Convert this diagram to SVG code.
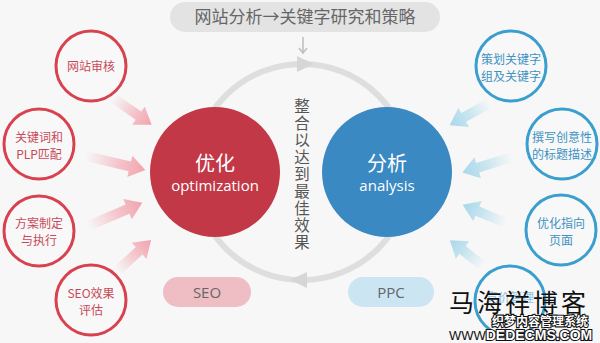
<svg xmlns="http://www.w3.org/2000/svg" width="600" height="343" viewBox="0 0 600 343">
<defs>
<style>
.cn{font-family:"Noto Sans CJK SC","Open Sans",sans-serif}
.lab{font-size:12px;text-anchor:middle}
.red{fill:#c84a58}
.blue{fill:#3d92c4}
.rc{fill:#f8f8f8;stroke:#d8424f;stroke-width:3}
.bc{fill:#f8f8f8;stroke:#3a9fcf;stroke-width:3}
.big{font-family:"Open Sans","Noto Sans CJK SC",sans-serif;fill:#fff;text-anchor:middle}
</style>
<linearGradient id="gr" x1="0" y1="0" x2="1" y2="0">
<stop offset="0" stop-color="#f2a3ad" stop-opacity="0"/>
<stop offset="0.55" stop-color="#f2a3ad" stop-opacity="0.6"/>
<stop offset="1" stop-color="#f2a3ad" stop-opacity="1"/>
</linearGradient>
<linearGradient id="gb" x1="0" y1="0" x2="1" y2="0">
<stop offset="0" stop-color="#a7d8ea" stop-opacity="0"/>
<stop offset="0.55" stop-color="#a7d8ea" stop-opacity="0.6"/>
<stop offset="1" stop-color="#a7d8ea" stop-opacity="1"/>
</linearGradient>
</defs>
<rect width="600" height="343" fill="#f7f7f7"/>

<g id="title">
<rect x="170" y="2" width="270" height="30" rx="15" fill="#e3e3e3"/>
<text x="305" y="23" class="cn" font-size="17" fill="#666" text-anchor="middle">网站分析→关键字研究和策略</text>
</g>

<g id="connectors">
<line x1="303" y1="37" x2="303" y2="53" stroke="#bdbdbd" stroke-width="1.5"/>
<polyline points="299,48 303,53 307,48" fill="none" stroke="#bdbdbd" stroke-width="1.5"/>
<circle cx="302" cy="172" r="108" fill="none" stroke="#dedede" stroke-width="6"/>
<polygon points="297,56 314,64 297,72" fill="#d6d6d6"/>
<polygon points="307,272 290,280 307,288" fill="#d6d6d6"/>
<g>
<polygon transform="translate(113,98) rotate(34.7)" points="0,-5 31,-5 31,-11 47,0 31,11 31,5 0,5" fill="url(#gr)"/>
<polygon transform="translate(86,156) rotate(13.3)" points="0,-5 45,-5 45,-11 61,0 45,11 45,5 0,5" fill="url(#gr)"/>
<polygon transform="translate(88,226) rotate(-23.1)" points="0,-5 43,-5 43,-11 59,0 43,11 43,5 0,5" fill="url(#gr)"/>
<polygon transform="translate(117,271) rotate(-42.3)" points="0,-5 30,-5 30,-11 46,0 30,11 30,5 0,5" fill="url(#gr)"/>
<polygon transform="translate(490,103) rotate(151.2)" points="0,-5 30,-5 30,-11 46,0 30,11 30,5 0,5" fill="url(#gb)"/>
<polygon transform="translate(512,157) rotate(162.6)" points="0,-5 36,-5 36,-11 52,0 36,11 36,5 0,5" fill="url(#gb)"/>
<polygon transform="translate(506,223) rotate(-157.3)" points="0,-5 31,-5 31,-11 47,0 31,11 31,5 0,5" fill="url(#gb)"/>
<polygon transform="translate(483,266) rotate(-142)" points="0,-5 26,-5 26,-11 42,0 26,11 26,5 0,5" fill="url(#gb)"/>
</g>
</g>

<g id="optimization">
<circle cx="215" cy="172" r="65" fill="#c23847"/>
<text x="215" y="171" class="big cn" font-size="20">优化</text>
<text x="215" y="191" class="big" font-size="15">optimization</text>
</g>
<g id="analysis">
<circle cx="387" cy="172" r="65" fill="#3a89c3"/>
<text x="387" y="171" class="big cn" font-size="20">分析</text>
<text x="387" y="191" class="big" font-size="15">analysis</text>
</g>

<g id="center-text">
<text x="302" y="98" class="cn" font-size="15.5" fill="#555" writing-mode="vertical-rl" letter-spacing="1.5">整合以达到最佳效果</text>
</g>

<g id="n1"><circle class="rc" cx="91" cy="66" r="35"/><text class="cn lab red" x="91" y="71">网站审核</text></g>
<g id="n2"><circle class="rc" cx="39" cy="144" r="35"/><text class="cn lab red" x="39" y="142">关键词和</text><text class="cn lab red" x="39" y="159">PLP匹配</text></g>
<g id="n3"><circle class="rc" cx="39" cy="231" r="35"/><text class="cn lab red" x="39" y="228">方案制定</text><text class="cn lab red" x="39" y="245">与执行</text></g>
<g id="n4"><circle class="rc" cx="91" cy="300" r="35"/><text class="cn lab red" x="91" y="298">SEO效果</text><text class="cn lab red" x="91" y="315">评估</text></g>

<g id="n5"><circle class="bc" cx="511" cy="66" r="35"/><text class="cn lab blue" x="511" y="64">策划关键字</text><text class="cn lab blue" x="511" y="81">组及关键字</text></g>
<g id="n6"><circle class="bc" cx="562" cy="144" r="35"/><text class="cn lab blue" x="562" y="142">撰写创意性</text><text class="cn lab blue" x="562" y="159">的标题描述</text></g>
<g id="n7"><circle class="bc" cx="561" cy="230" r="35"/><text class="cn lab blue" x="561" y="228">优化指向</text><text class="cn lab blue" x="561" y="245">页面</text></g>
<g id="n8"><circle class="bc" cx="510" cy="301" r="35"/><text class="cn lab" fill="#8cc3e0" x="510" y="302">竞价管理</text></g>

<g id="seo">
<rect x="163" y="277" width="88" height="30" rx="15" fill="#efbec5"/>
<text x="207" y="298" font-family="Open Sans,sans-serif" font-size="15" fill="#666" text-anchor="middle">SEO</text>
</g>
<g id="ppc">
<rect x="348" y="277" width="86" height="30" rx="15" fill="#cbe5f3"/>
<text x="391" y="298" font-family="Open Sans,sans-serif" font-size="15" fill="#666" text-anchor="middle">PPC</text>
</g>

<g id="watermark">
<text x="519" y="312" class="cn" font-size="25" fill="#111" text-anchor="middle" letter-spacing="3">马海祥博客</text>
<text x="540" y="326" class="cn" font-size="12" fill="#fff" stroke="#111" stroke-width="2.2" paint-order="stroke" text-anchor="middle" font-weight="bold">织梦内容管理系统</text>
<text x="449" y="340" font-family="Liberation Sans,sans-serif" font-size="13" fill="#111">WWW.</text>
<text x="539" y="340" font-family="Liberation Sans,sans-serif" font-size="14" fill="#fff" stroke="#111" stroke-width="2.2" paint-order="stroke" text-anchor="middle" font-weight="bold">DEDECMS.COM</text>
</g>
</svg>
